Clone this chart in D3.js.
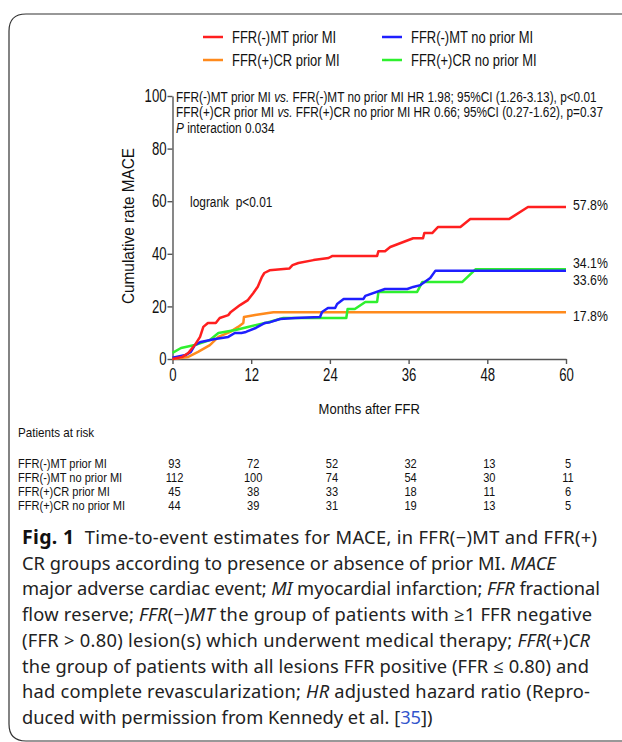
<!DOCTYPE html>
<meta charset="utf-8">
<script src="https://d3js.org/d3.v7.min.js"></script>
<style>
body { margin:0; background:white; overflow:hidden; }
svg text { fill:#111; }
.narrow { font-family:"Liberation Sans",Arial,sans-serif; }
.cap { font-family:"Noto Sans","Open Sans",sans-serif; font-size:18.3px; fill:#222; }
</style>
<body>
<div id="rootElement"></div>
<script>

// ---- data ----
var groups = ["FFR(-)MT prior MI", "FFR(-)MT no prior MI", "FFR(+)CR prior MI", "FFR(+)CR no prior MI"];
var colors = ["#ff1f1f", "#1f1fff", "#ff8a1c", "#2ef02e"];

// [month, cumulative %]
var redCurve = [[0,0],[1.5,0.8],[2.4,2.3],[3.4,5.3],[4.2,8.4],[4.7,12.2],[5.4,13.7],[6.6,13.7],[7.2,15.6],[8.5,16.7],[8.9,17.9],
  [10.3,20.5],[11.5,22.4],[12.3,25],[13,27.5],[13.6,31],[14,32.7],[14.8,33.7],[17.8,34.4],[18.3,35.7],[19.2,36.5],[21.5,37.6],
  [23.8,38.4],[24.4,39.2],[31.2,39.2],[31.4,41],[32.4,41],[33.2,42.6],[36.7,45.9],[38.2,45.9],[38.4,47.9],[39.6,47.9],
  [40.5,50.2],[43.9,50.2],[45.4,53.2],[51.3,53.2],[54.2,57.8],[60,57.8]];
var blueCurve = [[0,0.5],[2,1.5],[2.8,2.7],[3.4,5.3],[4.3,6.5],[6.5,7.6],[8.5,8.4],[9.5,9.9],[10.5,9.9],[11.2,10.3],[12.7,11.8],
  [14.1,13.7],[14.9,14],[16.4,15.2],[18.7,15.6],[22.5,16],[22.8,17.9],[23.7,19.4],[24.8,19.4],[25.1,20.9],[26.1,22.8],[29.1,22.8],
  [29.4,24],[32.4,26.6],[35.8,26.6],[36.7,27.4],[37.8,28.1],[39.3,30.8],[40.1,33.6],[60,33.6]];
var orangeCurve = [[0,0],[2.4,0.8],[3.9,2.7],[5.7,5.3],[7,8.4],[8.8,10.3],[10,12.2],[10.8,13.7],[10.9,16],[12.6,16.7],[14.6,17.5],
  [15.4,17.8],[60,17.8]];
var greenCurve = [[0,2.3],[1.3,4.2],[3.4,5.3],[5.7,7.2],[7,9.9],[9.6,11],[11.5,12.2],[14.6,14],[16.9,15.6],[26.5,15.6],[26.7,19],
  [27.8,19],[29.4,21.7],[31.2,21.7],[31.4,25.5],[37.3,25.5],[38.1,29.3],[44.2,29.3],[46.2,34.1],[60,34.1]];
var curves = [redCurve, blueCurve, orangeCurve, greenCurve];

var endLabels = ["57.8%", "33.6%", "17.8%", "34.1%"];
var endValues = [57.8, 33.6, 17.8, 34.1];

var monthTicks = [0, 12, 24, 36, 48, 60];
var rateTicks = [0, 20, 40, 60, 80, 100];

var tableRows = ["FFR(-)MT prior MI", "FFR(-)MT no prior MI", "FFR(+)CR prior MI", "FFR(+)CR no prior MI"];
var atRisk = [[93,72,52,32,13,5],[112,100,74,54,30,11],[45,38,33,18,11,6],[44,39,31,19,13,5]];

// ---- drawing ----
var width = 622, height = 742;
var svg = d3.select('#rootElement').append('svg').attr('width', width).attr('height', height);

// the chart lettering is a condensed sans: squeeze Liberation Sans horizontally
function squeeze(sel, k) {
  sel.each(function() {
    var w = this.getComputedTextLength();
    d3.select(this).attr('textLength', w * k).attr('lengthAdjust', 'spacingAndGlyphs');
  });
}

// frame
svg.append('path')
  .attr('d', 'M640,14 H26 Q9,14 9,31 V724 Q9,741 26,741 H640')
  .attr('fill', 'none').attr('stroke', '#333').attr('stroke-width', 1.2);

var x = d3.scaleLinear().domain([0, 60]).range([172.5, 566]);
var y = d3.scaleLinear().domain([0, 100]).range([359, 96]);

// legend
var legendPos = [[203, 37], [382, 37], [203, 60], [382, 60]];
var leg = svg.selectAll('g.leg').data(d3.range(groups.length)).enter().append('g')
  .attr('transform', function(d) { return 'translate(' + legendPos[d][0] + ',' + legendPos[d][1] + ')'; });
leg.append('line').attr('x1', 0).attr('x2', 20).attr('stroke', function(d) { return colors[d]; }).attr('stroke-width', 2.5);
leg.append('text').attr('class', 'narrow').attr('x', 29).attr('dy', '0.35em').style('font-size', '16px')
  .text(function(d) { return groups[d]; })
  .call(squeeze, 0.81);

// axes
var yAxis = svg.append('g').attr('transform', 'translate(' + x(0) + ',0)')
  .call(d3.axisLeft(y).tickValues(rateTicks).tickSize(5).tickSizeOuter(0).tickPadding(1));
var xAxis = svg.append('g').attr('transform', 'translate(0,' + y(0) + ')')
  .call(d3.axisBottom(x).tickValues(monthTicks).tickSize(5).tickSizeOuter(0).tickPadding(4));
[yAxis, xAxis].forEach(function(a) {
  a.select('.domain').attr('stroke', '#555').attr('stroke-width', 1.4);
  a.selectAll('.tick line').attr('stroke', '#555').attr('stroke-width', 1.4);
  a.selectAll('text').attr('class', 'narrow').style('font-size', '18px').attr('fill', '#111')
    .call(squeeze, 0.73);
});

svg.append('text').attr('class', 'narrow').attr('transform', 'translate(128,226) rotate(-90)')
  .attr('text-anchor', 'middle').attr('dy', '0.35em').style('font-size', '16px').text('Cumulative rate MACE')
  .call(squeeze, 0.96);
svg.append('text').attr('class', 'narrow').attr('x', x(30)).attr('y', 409)
  .attr('text-anchor', 'middle').attr('dy', '0.35em').style('font-size', '15.5px').text('Months after FFR')
  .call(squeeze, 0.84);

// annotations (mixed italic, so scale the whole line instead of textLength)
var annLines = [
  [['FFR(-)MT prior MI ', ''], ['vs.', 'i'], [' FFR(-)MT no prior MI HR 1.98; 95%CI (1.26-3.13), p<0.01', '']],
  [['FFR(+)CR prior MI ', ''], ['vs.', 'i'], [' FFR(+)CR no prior MI HR 0.66; 95%CI (0.27-1.62), p=0.37', '']],
  [['P', 'i'], [' interaction 0.034', '']]
];
annLines.forEach(function(segs, i) {
  var t = svg.append('text').attr('class', 'narrow')
    .attr('transform', 'translate(176,' + (97 + i * 15.3) + ') scale(0.815,1)').attr('dy', '0.35em')
    .style('font-size', '14.5px').style('white-space', 'pre');
  segs.forEach(function(s) {
    var sp = t.append('tspan').text(s[0]);
    if (s[1] == 'i') sp.style('font-style', 'italic');
  });
});

svg.append('text').attr('class', 'narrow').attr('x', 190).attr('y', 202).attr('dy', '0.35em')
  .style('font-size', '14px').style('white-space', 'pre').text('logrank  p<0.01')
  .call(squeeze, 0.85);

// curves
var line = d3.line().x(function(d) { return x(d[0]); }).y(function(d) { return y(d[1]); });
svg.selectAll('path.curve').data([2, 3, 1, 0]).enter().append('path')
  .attr('d', function(i) { return line(curves[i]); })
  .attr('fill', 'none').attr('stroke', function(i) { return colors[i]; })
  .attr('stroke-width', 2.5).attr('stroke-linejoin', 'round');

// end labels (nudge the two coinciding ones apart)
var nudge = [-2, 9, 4, -7];
svg.selectAll('text.end').data(endLabels).enter().append('text').attr('class', 'narrow')
  .attr('x', 573).attr('y', function(d, i) { return y(endValues[i]) + nudge[i]; }).attr('dy', '0.35em')
  .style('font-size', '15px').text(function(d) { return d; })
  .call(squeeze, 0.82);

// patients at risk
svg.append('text').attr('class', 'narrow').attr('x', 18).attr('y', 432).attr('dy', '0.35em')
  .style('font-size', '13.5px').text('Patients at risk')
  .call(squeeze, 0.86);
var rowY = d3.scaleBand().domain(d3.range(tableRows.length)).range([456, 512]);
var rows = svg.selectAll('g.row').data(tableRows).enter().append('g')
  .attr('transform', function(d, i) { return 'translate(0,' + (rowY(i) + rowY.bandwidth() / 2) + ')'; });
rows.append('text').attr('class', 'narrow').attr('x', 18).attr('dy', '0.35em').style('font-size', '13px')
  .text(function(d) { return d; })
  .call(squeeze, 0.85);
rows.selectAll('text.n').data(function(d, i) { return atRisk[i]; }).enter().append('text').attr('class', 'narrow')
  .attr('x', function(d, j) { return x(monthTicks[j]) + 2; }).attr('dy', '0.35em').attr('text-anchor', 'middle')
  .style('font-size', '13.5px').text(function(d) { return d; })
  .call(squeeze, 0.82);

// caption, one text per line; lines that run to the right edge in the original are set to its width
var caption = [
  [['Fig. 1', 'b'], ['  Time-to-event estimates for MACE, in FFR(\u2212)MT and FFR(+)', '']],
  [['CR groups according to presence or absence of prior MI. ', ''], ['MACE', 'i']],
  [['major adverse cardiac event; ', ''], ['MI', 'i'], [' myocardial infarction; ', ''], ['FFR', 'i'], [' fractional', '']],
  [['flow reserve; ', ''], ['FFR', 'i'], ['(\u2212)', ''], ['MT', 'i'], [' the group of patients with \u22651 FFR negative', '']],
  [['(FFR > 0.80) lesion(s) which underwent medical therapy; ', ''], ['FFR', 'i'], ['(+)', ''], ['CR', 'i']],
  [['the group of patients with all lesions FFR positive (FFR \u2264 0.80) and', '']],
  [['had complete revascularization; ', ''], ['HR', 'i'], [' adjusted hazard ratio (Repro-', '']],
  [['duced with permission from Kennedy et al. [', ''], ['35', 'l'], ['])', '']]
];
var capWidths = [575, 0, 578, 570, 568, 567, 568, 0];
caption.forEach(function(segs, i) {
  var t = svg.append('text').attr('class', 'cap').attr('x', 22).attr('y', 544 + i * 25.7).style('white-space', 'pre');
  segs.forEach(function(s) {
    var sp = t.append('tspan').text(s[0]);
    if (s[1] == 'b') sp.style('font-weight', 'bold').style('font-size', '19.5px').style('fill', '#111');
    if (s[1] == 'i') sp.style('font-style', 'italic');
    if (s[1] == 'l') sp.style('fill', '#3355cc');
  });
  if (capWidths[i]) t.attr('textLength', capWidths[i]).attr('lengthAdjust', 'spacing');
});

</script>
</body>
